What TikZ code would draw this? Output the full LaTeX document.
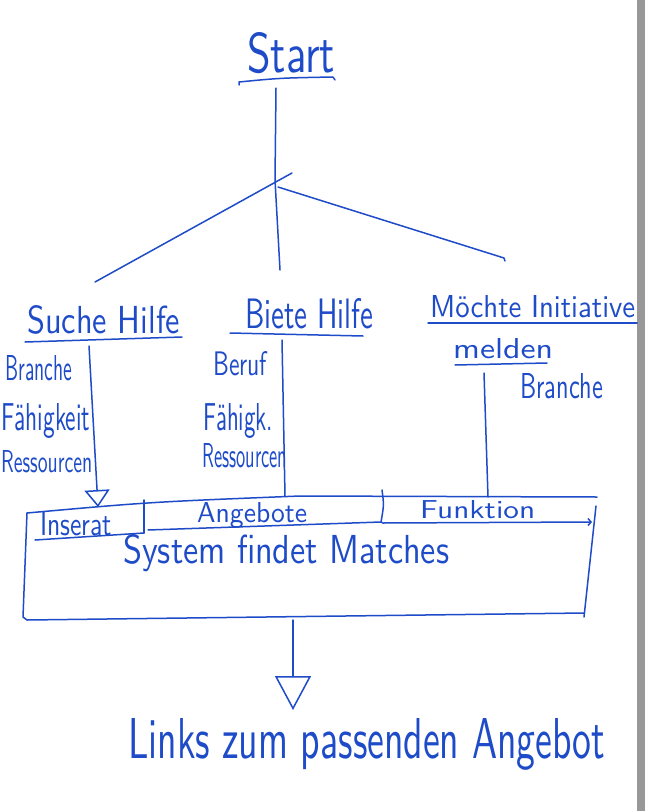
\documentclass[tikz,border=0pt]{standalone}
\usetikzlibrary{arrows.meta,calc}
\definecolor{inkblue}{RGB}{30,75,200}
\definecolor{edgegray}{RGB}{152,152,152}
\newcommand\hw[3]{\resizebox{#1pt}{#2pt}{#3}}
\begin{document}
\begin{tikzpicture}[x=1pt,y=-1pt,
  stroke/.style={draw=inkblue, line width=1.5pt, line cap=round, line join=round},
  lbl/.style={text=inkblue, inner sep=0pt, anchor=base west, font=\sffamily}]
\useasboundingbox (0,0) rectangle (645,811);
\fill[white] (0,0) rectangle (645,811);
\fill[edgegray] (637,0) rectangle (645,811);

% ---- labels ----
\node[lbl] (start)    at (247,72)  {\hw{88}{40}{Start}};
\node[lbl] (suche)    at (27,333)  {\hw{153}{28}{Suche Hilfe}};
\node[lbl] (biete)    at (245,328) {\hw{128}{30}{Biete Hilfe}};
\node[lbl] (moechte)  at (430,317) {\hw{205}{22}{Möchte Initiative}};
\node[lbl] (melden)   at (453,358) {\hw{100}{20}{melden}};
\node[lbl] (branchea) at (5,380)   {\hw{67}{25}{Branche}};
\node[lbl] (faeha)    at (1,430)   {\hw{89}{27}{Fähigkeit}};
\node[lbl] (ressa)    at (1,472)   {\hw{91}{22}{Ressourcen}};
\node[lbl] (beruf)    at (213,375) {\hw{54}{24}{Beruf}};
\node[lbl] (faehb)    at (203,430) {\hw{70}{27}{Fähigk.}};
\node[lbl] (ressb)    at (202,467) {\hw{85}{24}{Ressourcen}};
\node[lbl] (brancheb) at (520,398) {\hw{83}{25}{Branche}};
\node[lbl] (inserat)  at (40,535)  {\hw{72}{23}{Inserat}};
\node[lbl] (angebote) at (197,522) {\hw{110}{20}{Angebote}};
\node[lbl] (funktion) at (420,518) {\hw{115}{18}{Funktion}};
\node[lbl] (system)   at (123,563) {\hw{326}{29}{System findet Matches}};
\node[lbl] (links)    at (128,758) {\hw{477}{40}{Links zum passenden Angebot}};

% ---- coordinates ----
\coordinate (stUa) at (239,82);  \coordinate (stUb) at (333,77);
\coordinate (stVa) at (276,88);  \coordinate (stVm) at (275,180); \coordinate (stVb) at (280,270);
\coordinate (brLa) at (95,282);  \coordinate (brLb) at (292,173);
\coordinate (brRa) at (278,187); \coordinate (brRb) at (504,258);
\coordinate (suUa) at (25,342);  \coordinate (suUb) at (182,337);
\coordinate (suVa) at (89,346);  \coordinate (suVb) at (98,507);
\coordinate (biUa) at (230,333); \coordinate (biUb) at (363,336);
\coordinate (biVa) at (282,340); \coordinate (biVb) at (285,496);
\coordinate (moUa) at (428,323); \coordinate (moUb) at (637,323);
\coordinate (meUa) at (455,365); \coordinate (meUb) at (547,363);
\coordinate (meVa) at (484,373); \coordinate (meVb) at (488,497);
% band / box
\coordinate (bxTL) at (27,513);  \coordinate (bxTM) at (300,496); \coordinate (bxTR) at (597,497);
\coordinate (bxRT) at (596,506); \coordinate (bxRB) at (584,617);
\coordinate (bxLB) at (23,617);  \coordinate (bxBL) at (27,620);  \coordinate (bxBR) at (584,613);
\coordinate (inBa) at (35,540);  \coordinate (inBb) at (144,533);
\coordinate (dv1a) at (144,500); \coordinate (dv1b) at (144,533);
\coordinate (l2a)  at (148,530); \coordinate (l2b)  at (381,522);
\coordinate (dv2a) at (382,490); \coordinate (dv2b) at (381,522);
\coordinate (l3a)  at (383,523); \coordinate (l3b)  at (592,522);
\coordinate (outA) at (293,620); \coordinate (outB) at (293,710);

% ---- strokes ----
\draw[stroke] ($(stUa)+(0,3)$) -- (stUa) .. controls (280,78) .. (stUb) -- ++(2,3);
\draw[stroke] (stVa) -- (stVm) -- (stVb);
\draw[stroke] (brLa) -- (brLb);
\draw[stroke] (brRa) -- (brRb) -- ++(1,3);
\draw[stroke] (suUa) -- (suUb);
\draw[stroke] (biUa) -- (biUb);
\draw[stroke] (moUa) -- (moUb);
\draw[stroke] (meUa) -- (meUb);
\draw[stroke] (biVa) -- (biVb);
\draw[stroke] (meVa) -- (meVb);
\draw[stroke, -{Triangle[open, length=17pt, width=25pt, line width=1.5pt]}] (suVa) -- (suVb);

\draw[stroke] (bxTL) .. controls (150,502) .. (bxTM) -- (bxTR);
\draw[stroke] (bxTL) -- (bxLB) -- (bxBL) -- (bxBR);
\draw[stroke] (bxRT) -- (bxRB);
\draw[stroke] (inBa) -- (inBb);
\draw[stroke] (dv1a) -- (dv1b);
\draw[stroke] (l2a) -- (l2b);
\draw[stroke] (dv2a) .. controls (384,505) .. (dv2b) -- (l3a);
\draw[stroke, -{Straight Barb[length=3pt, width=7pt]}] (l3a) -- (l3b);

\draw[stroke, -{Triangle[open, length=34pt, width=36pt, line width=1.5pt]}] (outA) -- (outB);
\end{tikzpicture}
\end{document}
